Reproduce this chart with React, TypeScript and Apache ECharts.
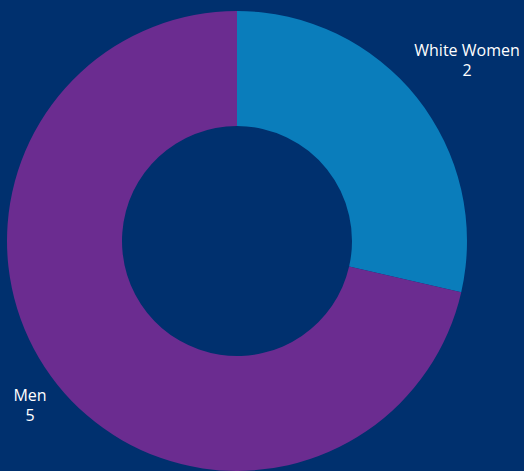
import React, { useEffect, useRef } from "react";
import * as echarts from "echarts";

const categories = ["White Women", "Men"];
const values = [2, 5];
const colors = ["#0A7DBB", "#6B2C90"];

export default function App() {
  const ref = useRef<HTMLDivElement>(null);
  useEffect(() => {
    if (!ref.current) return;
    const chart = echarts.init(ref.current, null, { renderer: "svg" });
    const labelPos = [
      { x: 467, y: 60 },
      { x: 30, y: 405 },
    ];
    chart.setOption({
      animation: false,
      backgroundColor: "#00306E",
      series: [
        {
          type: "pie",
          center: [237, 241],
          radius: [115, 230],
          startAngle: 90,
          clockwise: true,
          silent: true,
          itemStyle: { borderWidth: 0 },
          emphasis: { scale: false },
          label: {
            show: true,
            position: "inside",
            formatter: "{b}\n{c}",
            color: "#FFFFFF",
            fontFamily: "Open Sans",
            fontSize: 16,
            lineHeight: 20,
            textBorderWidth: 0,
          },
          labelLine: { show: false },
          labelLayout: (p: any) => ({
            x: labelPos[p.dataIndex].x,
            y: labelPos[p.dataIndex].y,
            align: "center",
            verticalAlign: "middle",
          }),
          data: categories.map((name, i) => ({
            name,
            value: values[i],
            itemStyle: { color: colors[i] },
          })),
        },
      ],
    });
    return () => chart.dispose();
  }, []);
  return (
    <div
      ref={ref}
      style={{ position: "absolute", left: 0, top: 0, width: 524, height: 471 }}
    />
  );
}
